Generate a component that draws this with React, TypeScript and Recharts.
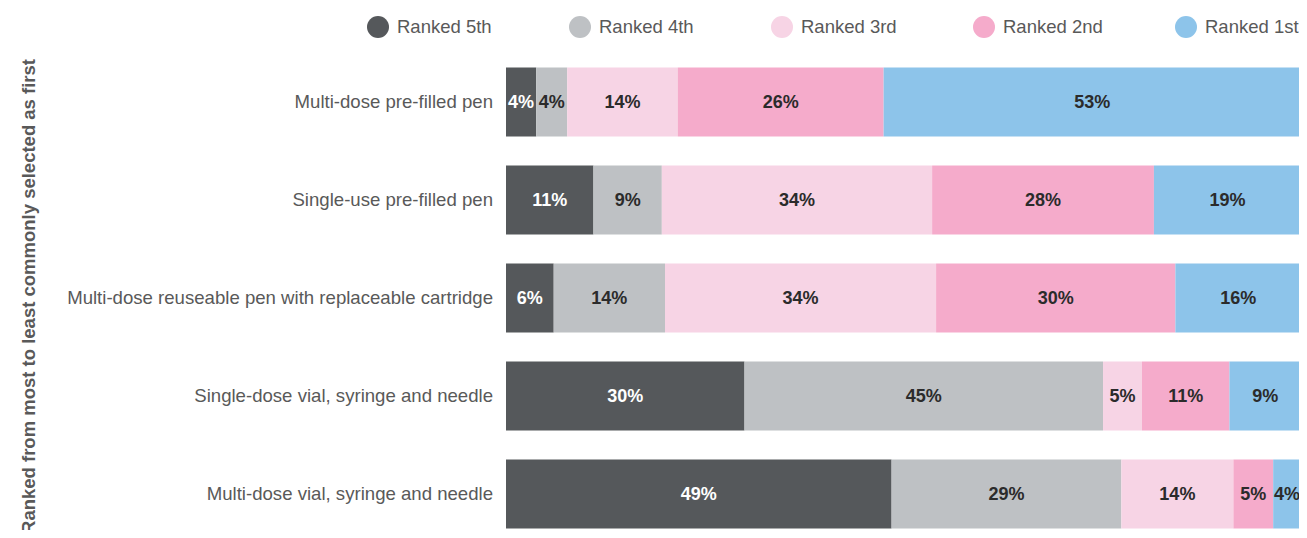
import { BarChart, Bar, XAxis, YAxis, Legend, LabelList, Label } from "recharts"

const categories = [
  "Multi-dose pre-filled pen",
  "Single-use pre-filled pen",
  "Multi-dose reuseable pen with replaceable cartridge",
  "Single-dose vial, syringe and needle",
  "Multi-dose vial, syringe and needle",
]

// share of respondents (%), left to right in each bar
const ranked5th = [3.8, 11.0, 6.0, 30.0, 48.5]
const ranked4th = [3.9, 8.6, 14.0, 45.1, 28.9]
const ranked3rd = [13.9, 34.0, 34.1, 4.9, 14.1]
const ranked2nd = [25.9, 27.9, 30.1, 11.0, 5.0]
const ranked1st = [52.5, 18.5, 15.8, 9.0, 3.5]

const seriesNames = ["Ranked 5th", "Ranked 4th", "Ranked 3rd", "Ranked 2nd", "Ranked 1st"]
const seriesKeys = ["r5", "r4", "r3", "r2", "r1"]
const seriesColors = ["#55585b", "#bec1c4", "#f7d4e5", "#f5abcb", "#8dc4ea"]
const labelColors = ["#ffffff", "#2b2b2b", "#2b2b2b", "#2b2b2b", "#2b2b2b"]

const axisTitle = "Ranked from most to least commonly selected as first"

const FONT = '"Liberation Sans", Arial, sans-serif'

const data = categories.map((name, i) => ({
  name,
  r5: ranked5th[i],
  r4: ranked4th[i],
  r3: ranked3rd[i],
  r2: ranked2nd[i],
  r1: ranked1st[i],
}))

function LegendRow() {
  return (
    <div style={{ display: "flex", alignItems: "center", height: 30, paddingLeft: 367, fontFamily: FONT }}>
      {seriesNames.map((name, i) => (
        <div key={name} style={{ display: "flex", alignItems: "center", width: 202, flexShrink: 0 }}>
          <div style={{ width: 22, height: 22, borderRadius: "50%", backgroundColor: seriesColors[i], flexShrink: 0 }} />
          <span style={{ marginLeft: 8, fontSize: 18.5, color: "#595959", whiteSpace: "nowrap" }}>{name}</span>
        </div>
      ))}
    </div>
  )
}

export default function App() {
  return (
    <div style={{ margin: -8, width: 1307, height: 538, background: "#fff", fontFamily: FONT, overflow: "hidden" }}>
      <BarChart
        width={1307}
        height={538}
        data={data}
        layout="vertical"
        margin={{ top: 22.5, right: 6, bottom: -4.5, left: 0 }}
      >
        <XAxis type="number" domain={[0, 100]} hide />
        <YAxis
          type="category"
          dataKey="name"
          width={506}
          axisLine={false}
          tickLine={false}
          tickMargin={7}
          tick={{ fontSize: 18.6, fill: "#595959", fontFamily: FONT }}
        >
          <Label
            content={() => (
              <text
                x={28}
                y={59}
                transform="rotate(-90, 28, 59)"
                textAnchor="end"
                dominantBaseline="central"
                fontSize={18.5}
                fontWeight="bold"
                fill="#595959"
                fontFamily={FONT}
              >
                {axisTitle}
              </text>
            )}
          />
        </YAxis>
        <Legend verticalAlign="top" content={() => <LegendRow />} wrapperStyle={{ top: 12, left: 0 }} />
        {seriesKeys.map((key, i) => (
          <Bar
            key={key}
            dataKey={key}
            name={seriesNames[i]}
            stackId="rank"
            fill={seriesColors[i]}
            barSize={69}
            isAnimationActive={false}
          >
            <LabelList
              dataKey={key}
              position="center"
              formatter={(v: number) => `${Math.round(v)}%`}
              fill={labelColors[i]}
              fontSize={18}
              fontWeight="bold"
              fontFamily={FONT}
            />
          </Bar>
        ))}
      </BarChart>
    </div>
  )
}
